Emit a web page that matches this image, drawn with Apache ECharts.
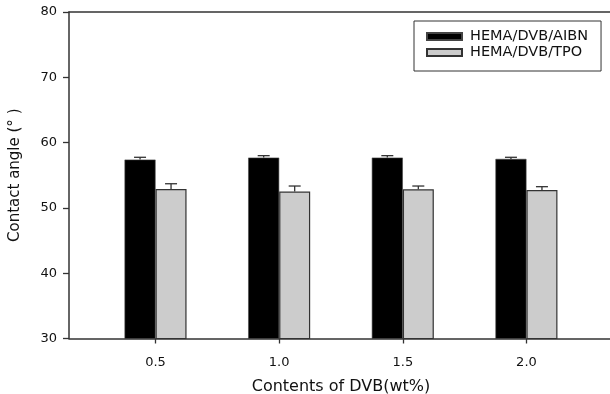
<!DOCTYPE html>
<html>
<head>
<meta charset="utf-8">
<script src="https://cdn.jsdelivr.net/npm/echarts@6/dist/echarts.min.js"></script>
<style>
  html, body { margin: 0; padding: 0; background: #fff; }
  #chart { width: 610px; height: 394px; }
</style>
</head>
<body>
<div id="chart"></div>
<script>
// DVB contents (wt%) on the x axis
const dvbContents = [0.5, 1.0, 1.5, 2.0];
// Mean contact angle (degrees) and upper error for each initiator system
const aibnAngle = [57.4, 57.7, 57.7, 57.5];
const aibnErr = [0.35, 0.3, 0.3, 0.25];
const tpoAngle = [52.9, 52.5, 52.85, 52.75];
const tpoErr = [0.8, 0.85, 0.5, 0.5];
const seriesNames = ['HEMA/DVB/AIBN', 'HEMA/DVB/TPO'];
const yTicks = [30, 40, 50, 60, 70, 80];

const FONT = 'DejaVu Sans';
const AXIS_COLOR = '#333';
const BAR_W = 31;

const pairs = (xs, ys) => xs.map((x, i) => [x, ys[i]]);
const errPairs = (xs, ys, es) => xs.map((x, i) => [x, ys[i], ys[i] + es[i]]);

// One-sided (upper) error bar, shifted to the centre of its bar
function errorRenderer(shift) {
  return function (params, api) {
    const base = api.coord([api.value(0), api.value(1)]);
    const top = api.coord([api.value(0), api.value(2)]);
    const cx = base[0] + shift;
    const half = 6;
    const style = { stroke: AXIS_COLOR, lineWidth: 1.3 };
    return {
      type: 'group',
      children: [
        { type: 'line', shape: { x1: cx, y1: base[1], x2: cx, y2: top[1] }, style },
        { type: 'line', shape: { x1: cx - half, y1: top[1], x2: cx + half, y2: top[1] }, style }
      ]
    };
  };
}

const chart = echarts.init(document.getElementById('chart'), null, { renderer: 'canvas' });

chart.setOption({
  animation: false,
  backgroundColor: '#fff',
  grid: { left: 69, right: -3, top: 12, bottom: 55.5, containLabel: false, outerBoundsMode: 'none' },
  legend: {
    data: seriesNames,
    icon: 'rect',
    orient: 'vertical',
    left: 414,
    top: 21,
    padding: [8, 13, 11, 12],
    itemGap: 1,
    itemWidth: 35,
    itemHeight: 7,
    borderColor: AXIS_COLOR,
    borderWidth: 1,
    textStyle: { fontFamily: FONT, fontSize: 14.5, color: '#111', lineHeight: 14, padding: [0, 0, 0, 3] }
  },
  xAxis: [
    {
      type: 'value',
      min: 0.15,
      max: 2.35,
      position: 'bottom',
      axisLine: { show: true, lineStyle: { color: AXIS_COLOR, width: 1.5 } },
      axisTick: { show: true, customValues: dvbContents, length: 5, lineStyle: { color: AXIS_COLOR, width: 1.3 } },
      axisLabel: {
        customValues: dvbContents,
        formatter: v => v.toFixed(1),
        fontFamily: FONT, fontSize: 13, color: '#111', margin: 18
      },
      splitLine: { show: false },
      name: 'Contents of DVB(wt%)',
      nameLocation: 'middle',
      nameGap: 40,
      nameTextStyle: { fontFamily: FONT, fontSize: 16, color: '#111' }
    },
    {
      type: 'value',
      min: 0.15,
      max: 2.35,
      position: 'top',
      axisLine: { show: true, lineStyle: { color: AXIS_COLOR, width: 1.5 } },
      axisTick: { show: false },
      axisLabel: { show: false },
      splitLine: { show: false }
    }
  ],
  yAxis: {
    type: 'value',
    min: yTicks[0],
    max: yTicks[yTicks.length - 1],
    interval: 10,
    axisLine: { show: true, lineStyle: { color: AXIS_COLOR, width: 1.5 } },
    axisTick: { show: true, length: 6, lineStyle: { color: AXIS_COLOR, width: 1.3 } },
    axisLabel: { fontFamily: FONT, fontSize: 13, color: '#111', margin: 12 },
    splitLine: { show: false },
    name: 'Contact angle (° )',
    nameLocation: 'middle',
    nameRotate: 90,
    nameGap: 46,
    nameTextStyle: { fontFamily: FONT, fontSize: 15, color: '#111' }
  },
  series: [
    {
      name: seriesNames[0],
      type: 'bar',
      data: pairs(dvbContents, aibnAngle),
      barWidth: BAR_W,
      barGap: '0%',
      itemStyle: { color: '#000', borderColor: '#444', borderWidth: 0.6 },
      z: 2
    },
    {
      name: seriesNames[1],
      type: 'bar',
      data: pairs(dvbContents, tpoAngle),
      barWidth: BAR_W,
      barGap: '0%',
      itemStyle: { color: '#cccccc', borderColor: '#333', borderWidth: 1.2 },
      z: 2
    },
    {
      type: 'custom',
      data: errPairs(dvbContents, aibnAngle, aibnErr),
      renderItem: errorRenderer(-BAR_W / 2),
      encode: { x: 0, y: [1, 2] },
      z: 3,
      silent: true
    },
    {
      type: 'custom',
      data: errPairs(dvbContents, tpoAngle, tpoErr),
      renderItem: errorRenderer(BAR_W / 2),
      encode: { x: 0, y: [1, 2] },
      z: 3,
      silent: true
    }
  ]
});
</script>
</body>
</html>
